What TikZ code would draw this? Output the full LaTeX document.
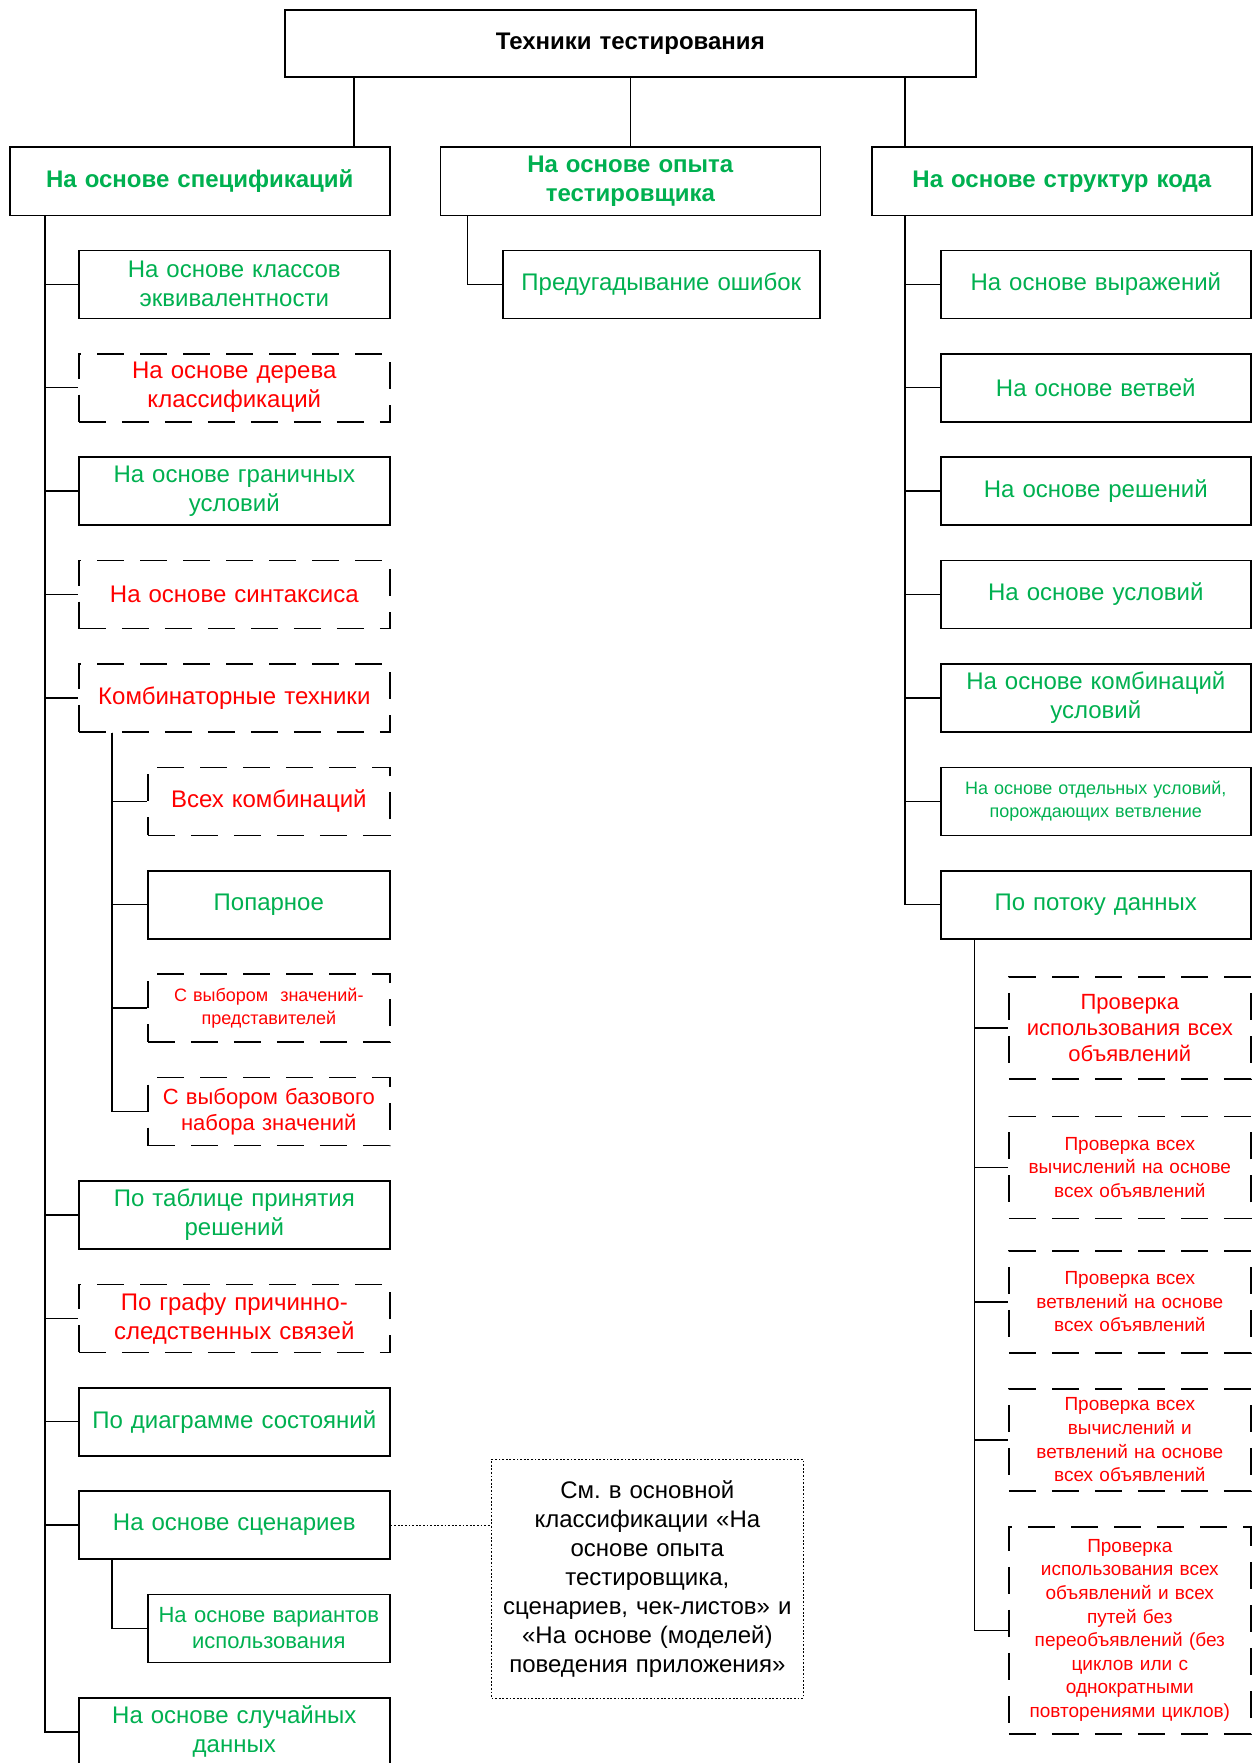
\documentclass[tikz,border=0pt]{standalone}
\usepackage{fontspec}
\setmainfont{Liberation Sans}
\definecolor{gr}{RGB}{0,176,80}
\begin{document}
\frenchspacing
\begin{tikzpicture}[x=1pt,y=-1pt]
\tikzset{
 bx/.style={draw, line width=1.6pt, inner sep=0pt, align=center, anchor=north west, minimum height=68pt, font=\fontsize{24}{29}\selectfont},
 gb/.style={bx, text=gr},
 rb/.style={bx, text=red, dash pattern=on 27pt off 16pt},
 wL/.style={minimum width=311pt, text width=305pt},
 wS/.style={minimum width=242pt, text width=238pt},
 wR/.style={minimum width=310pt, text width=304pt},
 lvl/.style={gb, minimum width=380pt, text width=370pt, font=\bfseries\fontsize{24}{29}\selectfont},
 ln/.style={line width=1.4pt},
 small/.style={font=\fontsize{19}{23.6}\selectfont},
 tiny/.style={font=\fontsize{18}{23.6}\selectfont},
 mid/.style={font=\fontsize{22}{26}\selectfont},
}
\useasboundingbox (0,0) rectangle (1259,1763);

% top
\node[bx, minimum width=691pt, text width=680pt, minimum height=67pt, font=\bfseries\fontsize{24}{29}\selectfont] (top) at (284,9) {Техники тестирования};

% level 1
\node[lvl] (A) at (9,146.5) {На основе спецификаций};
\node[lvl] (B) at (439.5,146.5) {На основе опыта\\тестировщика};
\node[lvl] (C) at (871,146.5) {На основе структур кода};

\coordinate (kA) at (354,0);
\coordinate (tA) at (45,0);
\coordinate (tB) at (467.6,0);
\coordinate (tC) at (905,0);
\coordinate (sA) at (112,0);
\coordinate (sC) at (974.5,0);

\draw[ln] (top.south -| kA) -- (A.north -| kA);
\draw[ln] (top.south -| B.north) -- (B.north);
\draw[ln] (top.south -| tC) -- (C.north -| tC);

% left column
\node[gb, wL] (l1) at (78,249.5) {На основе классов\\эквивалентности};
\node[rb, wL] (l2) at (78,352.9) {На основе дерева\\классификаций};
\node[gb, wL] (l3) at (78,456.3) {На основе граничных\\условий};
\node[rb, wL] (l4) at (78,559.7) {На основе синтаксиса};
\node[rb, wL] (l5) at (78,663.1) {Комбинаторные техники};
\node[rb, wS] (l5a) at (147,766.5) {Всех комбинаций};
\node[gb, wS] (l5b) at (147,869.9) {Попарное};
\node[rb, wS, tiny] (l5c) at (147,973.3) {С выбором\ \ значений-\\представителей};
\node[rb, wS, mid] (l5d) at (147,1076.7) {С выбором базового\\набора значений};
\node[gb, wL] (l6) at (78,1180.1) {По таблице принятия\\решений};
\node[rb, wL] (l7) at (78,1283.5) {По графу причинно-\\следственных связей};
\node[gb, wL] (l8) at (78,1386.9) {По диаграмме состояний};
\node[gb, wL] (l9) at (78,1490.3) {На основе сценариев};
\node[gb, wS, mid] (l9a) at (147,1593.7) {На основе вариантов\\использования};
\node[gb, wL] (l10) at (78,1697.1) {На основе случайных\\данных};

\foreach \c in {l1,l2,l3,l4,l5,l6,l7,l8,l9,l10}
  \draw[ln] (A.south -| tA) |- (\c.west);
\foreach \c in {l5a,l5b,l5c,l5d}
  \draw[ln] (l5.south -| sA) |- (\c.west);
\draw[ln] (l9.south -| sA) |- (l9a.west);

% note
\node[draw, line width=1.2pt, dash pattern=on 1.8pt off 1.8pt, anchor=north west, minimum width=311.5pt, minimum height=239pt, text width=304pt, align=center, inner sep=0pt, font=\fontsize{24}{29}\selectfont] (note) at (491,1458.5) {См. в основной\\классификации «На\\основе опыта\\тестировщика,\\сценариев, чек-листов» и\\«На основе (моделей)\\поведения приложения»};
\draw[line width=1.2pt, dash pattern=on 1.8pt off 1.8pt] (l9.east) -- (l9.east -| note.west);

% middle
\node[gb, minimum width=317pt, text width=310pt] (m1) at (502,249.5) {Предугадывание ошибок};
\draw[ln] (B.south -| tB) |- (m1.west);

% right column
\node[gb, wR] (r1) at (940,249.5) {На основе выражений};
\node[gb, wR] (r2) at (940,352.9) {На основе ветвей};
\node[gb, wR] (r3) at (940,456.3) {На основе решений};
\node[gb, wR] (r4) at (940,559.7) {На основе условий};
\node[gb, wR] (r5) at (940,663.1) {На основе комбинаций\\условий};
\node[gb, wR, tiny] (r6) at (940,766.5) {На основе отдельных условий,\\порождающих ветвление};
\node[gb, wR] (r7) at (940,869.9) {По потоку данных};

\foreach \c in {r1,r2,r3,r4,r5,r6,r7}
  \draw[ln] (C.south -| tC) |- (\c.west);

\node[rb, wS, mid, minimum height=102pt] (ra) at (1008,976) {Проверка\\использования всех\\объявлений};
\node[rb, wS, small, minimum height=102pt] (rb) at (1008,1115.5) {Проверка всех\\вычислений на основе\\всех объявлений};
\node[rb, wS, small, minimum height=102pt] (rc) at (1008,1250) {Проверка всех\\ветвлений на основе\\всех объявлений};
\node[rb, wS, small, minimum height=102pt] (rd) at (1008,1388) {Проверка всех\\вычислений и\\ветвлений на основе\\всех объявлений};
\node[rb, wS, small, minimum height=207pt] (re) at (1008,1526) {Проверка\\использования всех\\объявлений и всех\\путей без\\переобъявлений (без\\циклов или с\\однократными\\повторениями циклов)};

\foreach \c in {ra,rb,rc,rd,re}
  \draw[ln] (r7.south -| sC) |- (\c.west);
\end{tikzpicture}
\end{document}
